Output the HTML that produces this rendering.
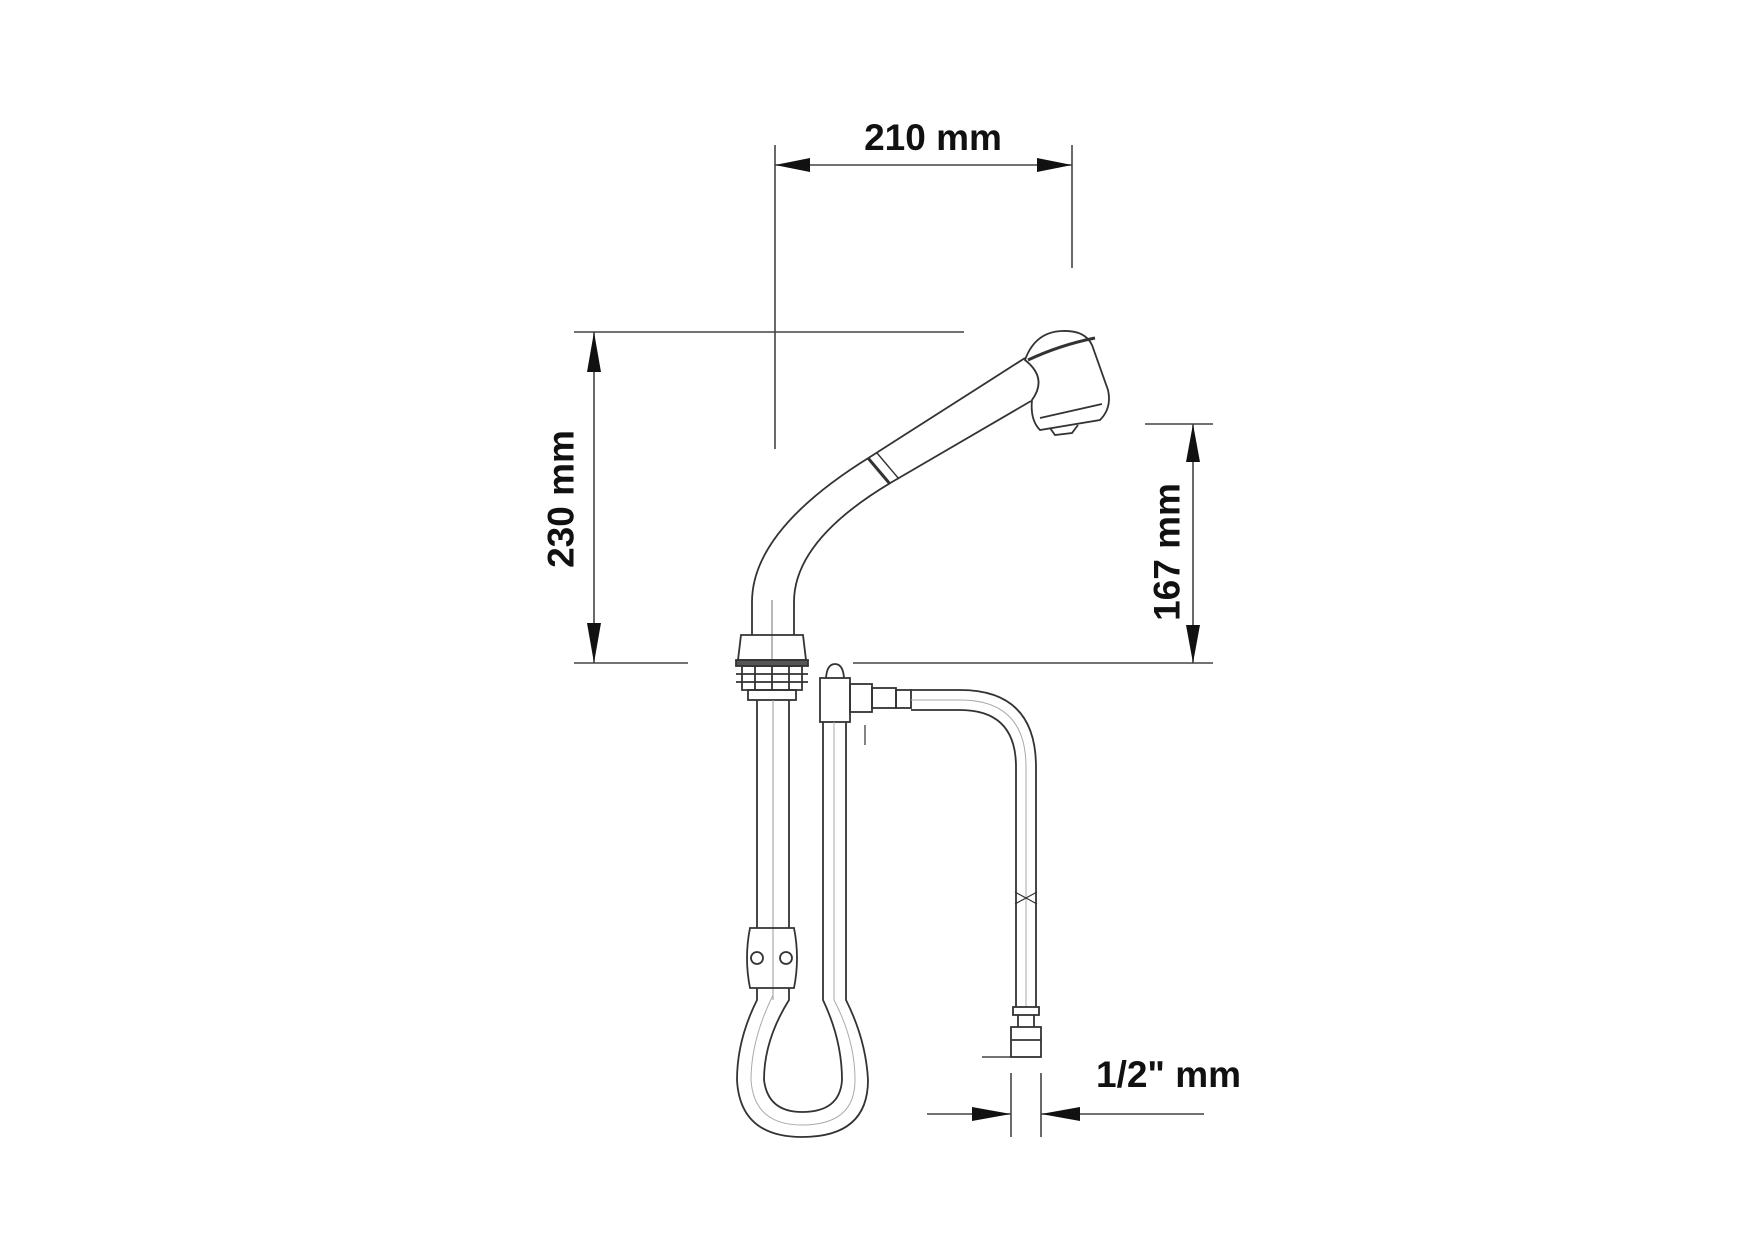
<!DOCTYPE html>
<html><head><style>
html,body{margin:0;padding:0;background:#fff;}
svg{display:block;}
text{font-family:"Liberation Sans",sans-serif;font-weight:bold;fill:#111;}
</style></head><body>
<svg width="1748" height="1240" viewBox="0 0 1748 1240" xmlns="http://www.w3.org/2000/svg">
<g stroke="#444" stroke-width="1.6" fill="none">
<!-- 210 dimension -->
<line x1="775" y1="145" x2="775" y2="449"/>
<line x1="1072" y1="145" x2="1072" y2="268"/>
<line x1="775" y1="165" x2="1072" y2="165"/>
<!-- 230 -->
<line x1="574" y1="332" x2="964" y2="332"/>
<line x1="574" y1="663" x2="688" y2="663"/>
<line x1="594" y1="332" x2="594" y2="663"/>
<!-- 167 -->
<line x1="1145" y1="424" x2="1213" y2="424"/>
<line x1="853" y1="663" x2="1213" y2="663"/>
<line x1="1193" y1="424" x2="1193" y2="663"/>
<!-- 1/2 -->
<line x1="1011" y1="1073" x2="1011" y2="1137"/>
<line x1="1041" y1="1073" x2="1041" y2="1137"/>
<line x1="927" y1="1114" x2="1011" y2="1114"/>
<line x1="1041" y1="1114" x2="1204" y2="1114"/>
<line x1="982" y1="1057" x2="1011" y2="1057"/>
</g>
<g fill="#111">
<polygon points="775,165 810,158 810,172"/>
<polygon points="1072,165 1037,158 1037,172"/>
<polygon points="594,332 587,372 601,372"/>
<polygon points="594,663 587,623 601,623"/>
<polygon points="1193,424 1186,462 1200,462"/>
<polygon points="1193,663 1186,625 1200,625"/>
<polygon points="1011,1114 972,1107 972,1121"/>
<polygon points="1041,1114 1080,1107 1080,1121"/>
</g>
<!-- faucet -->
<g stroke="#333" stroke-width="1.8" fill="none">
<path d="M1025,358 L870,457 Q752,530 752,602 L752,635"/>
<path d="M1031,401 L892,482 Q794,540 794,602 L794,635"/>
<line x1="868" y1="458" x2="890" y2="484" stroke-width="3"/>
<line x1="877" y1="453" x2="899" y2="479" stroke-width="1.4"/>
<line x1="772" y1="600" x2="772" y2="663" stroke="#888" stroke-width="1.2"/>
<path d="M1025,360 Q1035,332 1062,331 Q1085,330 1092,345 L1108,390 Q1112,408 1100,420 L1040,430 Q1030,420 1032,400 Q1048,378 1025,360 Z"/>
<path d="M1028,360 Q1060,345 1095,338" stroke-width="3"/>
<path d="M1040,418 L1102,404"/>
<path d="M1050,428 L1055,435 L1072,433 L1078,425"/>
<!-- base collar -->
<path d="M741,635 L803,635 L806,660 L738,660 Z"/>
<rect x="736" y="660" width="72" height="6" fill="#555"/>
<path d="M742,666 L802,666 L802,690 L742,690 Z"/>
<path d="M736,674 L808,674 M736,682 L808,682"/>
<line x1="755" y1="666" x2="755" y2="690"/><line x1="772" y1="666" x2="772" y2="690"/><line x1="789" y1="666" x2="789" y2="690"/>
<rect x="748" y="690" width="48" height="10"/>
<!-- elbow -->
<path d="M826,678 Q827,664 835,664 Q843,664 844,678"/>
<rect x="820" y="678" width="30" height="44"/>
<rect x="850" y="684" width="22" height="28"/>
<rect x="872" y="688" width="24" height="20"/>
<rect x="896" y="690" width="15" height="18"/>
<line x1="865" y1="725" x2="865" y2="745" stroke="#777"/>
<!-- left tube -->
<line x1="757" y1="700" x2="757" y2="928"/>
<line x1="789" y1="700" x2="789" y2="928"/>
<line x1="773" y1="700" x2="773" y2="1000" stroke="#999" stroke-width="1"/>
<path d="M750,928 L794,928 Q800,958 794,988 L750,988 Q744,958 750,928 Z"/>
<circle cx="757" cy="958" r="6"/>
<circle cx="786" cy="958" r="6"/>
<!-- loop -->
<path d="M757,988 L757,1000 Q737,1040 737,1080 Q740,1137 802,1137 Q868,1137 868,1080 Q866,1040 846,1000 L846,722"/>
<path d="M789,988 L789,1000 Q764,1040 764,1080 Q768,1112 802,1112 Q840,1112 842,1080 Q842,1040 823,1000 L823,722"/>
<path d="M773,995 Q751,1040 751,1080 Q754,1125 802,1125 Q855,1125 855,1080 Q855,1040 834,1000 L834,722" stroke="#aaa" stroke-width="1"/>
<!-- right hose -->
<path d="M911,690 L960,690 Q1036,690 1036,767 L1036,1007"/>
<path d="M911,710 L960,710 Q1016,710 1016,767 L1016,1007"/>
<path d="M911,700 L960,700 Q1026,700 1026,767 L1026,1007" stroke="#aaa" stroke-width="1"/>
<path d="M1015,892 L1037,904 M1037,892 L1015,904" stroke-width="1.2"/>
<rect x="1013" y="1007" width="26" height="8"/>
<rect x="1011" y="1027" width="30" height="30"/>
<line x1="1011" y1="1040" x2="1041" y2="1040"/>
<line x1="1018" y1="1015" x2="1018" y2="1027"/><line x1="1034" y1="1015" x2="1034" y2="1027"/>
</g>
<!-- labels -->
<text x="933" y="150" font-size="37" text-anchor="middle">210 mm</text>
<text transform="translate(561,499) rotate(-90)" font-size="37" text-anchor="middle" dominant-baseline="central">230 mm</text>
<text transform="translate(1167,552) rotate(-90)" font-size="37" text-anchor="middle" dominant-baseline="central">167 mm</text>
<text x="1096" y="1087" font-size="37">1/2" mm</text>
</svg>
</body></html>
